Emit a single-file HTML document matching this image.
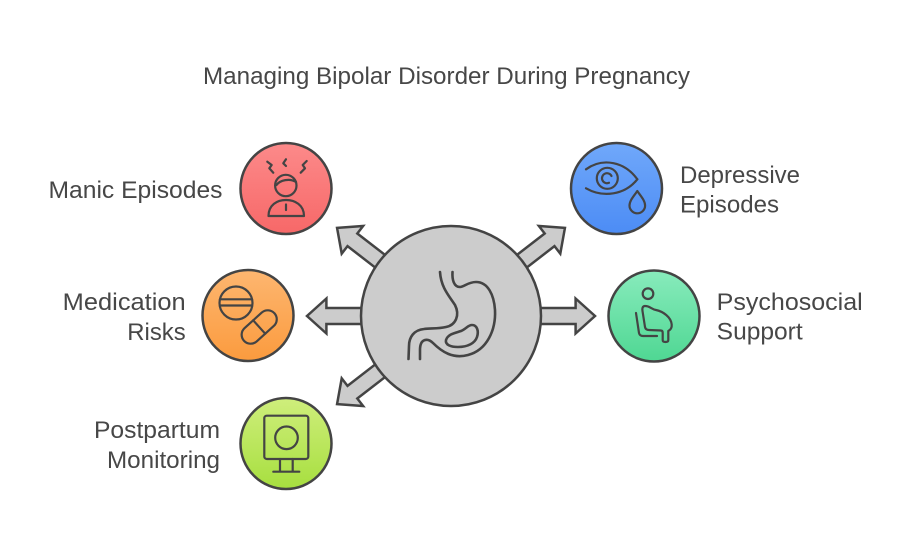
<!DOCTYPE html>
<html><head><meta charset="utf-8"><style>
html,body{margin:0;padding:0;background:#fff;}
svg{display:block;}
text{font-family:"Liberation Sans",Arial,sans-serif;fill:#474747;font-size:24px;}
</style></head><body>
<svg width="910" height="550" viewBox="0 0 910 550" xmlns="http://www.w3.org/2000/svg">
<defs>
<linearGradient id="gr" x1="0" y1="0" x2="0" y2="1"><stop offset="0" stop-color="#fc8a8a"/><stop offset="1" stop-color="#f76868"/></linearGradient>
<linearGradient id="gb" x1="0" y1="0" x2="0" y2="1"><stop offset="0" stop-color="#70a8fa"/><stop offset="1" stop-color="#4c8cf5"/></linearGradient>
<linearGradient id="go" x1="0" y1="0" x2="0" y2="1"><stop offset="0" stop-color="#fdb670"/><stop offset="1" stop-color="#fb9b3e"/></linearGradient>
<linearGradient id="gg" x1="0" y1="0" x2="0" y2="1"><stop offset="0" stop-color="#88ebbc"/><stop offset="1" stop-color="#4fd793"/></linearGradient>
<linearGradient id="gl" x1="0" y1="0" x2="0" y2="1"><stop offset="0" stop-color="#cfee7c"/><stop offset="1" stop-color="#a7df3f"/></linearGradient>
<polygon id="arr" points="0,-8 124.6,-8 124.6,-17.5 144,0 124.6,17.5 124.6,8 0,8"/>
</defs>

<text x="203" y="84" textLength="487" lengthAdjust="spacingAndGlyphs">Managing Bipolar Disorder During Pregnancy</text>

<!-- arrows -->
<g fill="#cccccc" stroke="#444" stroke-width="2.5" stroke-linejoin="miter">
<use href="#arr" transform="translate(451,316) rotate(217.7)"/>
<use href="#arr" transform="translate(451,316) rotate(-37.7)"/>
<use href="#arr" transform="translate(451,316) rotate(142.3)"/>
<use href="#arr" transform="translate(451,316) rotate(180)"/>
<use href="#arr" transform="translate(451,316)"/>
</g>
<circle cx="451" cy="316" r="90" fill="#cccccc" stroke="#444" stroke-width="2.5"/>

<!-- stomach -->
<g fill="none" stroke="#444" stroke-width="2.6" stroke-linecap="round" stroke-linejoin="round">
<path d="M440,272 C441,288 450,297 455,305 C460,315 456,325 446,327 C438,329 430,328 424,329 C414,330 409,337 409,346 L408.5,359"/>
<path d="M452.5,272 C452,280 454,287 460,287 C464,287 468,282 476,282 C488,282 494,295 495,310 C496,330 487,350 468,355 C453,359 442,352 433,343 C428,338 420,338 420,350 L420,359"/>
<path d="M446,340 C448,334 455,333 461,331 C466,329 468,325 472,325 C477,325 479,331 477,337 C475,343 468,347 458,347 C451,347 445,345 446,340 Z"/>
</g>

<!-- colored circles -->
<g stroke="#444" stroke-width="2.5">
<circle cx="286" cy="188.5" r="45.5" fill="url(#gr)"/>
<circle cx="616.5" cy="188.5" r="45.5" fill="url(#gb)"/>
<circle cx="248" cy="315.5" r="45.5" fill="url(#go)"/>
<circle cx="654" cy="316" r="45.5" fill="url(#gg)"/>
<circle cx="286" cy="443.5" r="45.5" fill="url(#gl)"/>
</g>

<g fill="none" stroke="#444" stroke-width="2.2" stroke-linecap="round" stroke-linejoin="round">
<!-- manic icon -->
<circle cx="285.8" cy="185.5" r="10.7"/>
<path d="M276.5,185 C280,180 290,178 296,182"/>
<path d="M268.5,216 C268.5,205 277,200 286,200 C295,200 304,205 304,216 Z"/>
<path d="M286,204.5 L286,210"/>
<path d="M267.3,161.7 L271.7,165 L269.3,168.3 L273.3,172.7"/>
<path d="M286,159.3 L283.3,163.3 L286,166"/>
<path d="M306.7,161 L302.7,165 L305,168.3 L300.7,172.7"/>

<!-- eye icon -->
<path d="M586,169.3 C603,157 625,162 637.3,179.3"/>
<path d="M586,188.3 C603,198 625,195 637.3,179.3"/>
<circle cx="607.3" cy="178.3" r="10.5"/>
<path d="M611.5,176 A5,5 0 1 0 609,182.8"/>
<path d="M637.3,191 C634,196 629.5,200.5 629.5,205.5 A7.8,7.8 0 0 0 645.1,205.5 C645.1,200.5 640.6,196 637.3,191 Z"/>

<!-- pills icon -->
<circle cx="236" cy="303" r="16.5"/>
<path d="M220,299.3 L252,299.3 M220,305.5 L252,305.5"/>
<g transform="translate(259.2,327) rotate(-42)">
<rect x="-20.5" y="-9" width="41" height="18" rx="9"/>
<path d="M0,-9 L0,9"/>
</g>

<!-- seated pregnant icon -->
<circle cx="648" cy="293.7" r="5.3"/>
<path d="M645,306 C642.5,306 642,308.5 642.5,311 L645,327 C645.5,329.5 647,330 649,330 L661,330.5 C662.5,330.5 662.7,332 662.7,333 L662.7,340 C662.7,341.5 663.5,342 665.5,342 C667.5,342 668.3,341.5 668.3,340 L668.3,331 C671,329.5 672,327.5 671.7,324.5 C671,317 663,311.5 656,310 C651,309 650,306 645,306 Z"/>
<path d="M636,313 L639,333 C639.5,335 641,336 643,336 L657,336"/>

<!-- monitor icon -->
<rect x="264.3" y="415.7" width="44" height="43.3" rx="2.5"/>
<circle cx="286.5" cy="437.8" r="11.3"/>
<path d="M280,459 L280,471.7 M292.7,459 L292.7,471.7 M273.3,471.7 L299.3,471.7"/>
</g>

<!-- labels -->
<text x="48.5" y="198" textLength="174" lengthAdjust="spacingAndGlyphs">Manic Episodes</text>
<text x="62.7" y="310" textLength="123" lengthAdjust="spacingAndGlyphs">Medication</text>
<text x="127.3" y="340" textLength="58.4" lengthAdjust="spacingAndGlyphs">Risks</text>
<text x="94" y="438" textLength="126" lengthAdjust="spacingAndGlyphs">Postpartum</text>
<text x="107" y="468" textLength="113" lengthAdjust="spacingAndGlyphs">Monitoring</text>
<text x="680" y="183" textLength="120" lengthAdjust="spacingAndGlyphs">Depressive</text>
<text x="680" y="212.5" textLength="99" lengthAdjust="spacingAndGlyphs">Episodes</text>
<text x="716.7" y="310" textLength="146" lengthAdjust="spacingAndGlyphs">Psychosocial</text>
<text x="716.7" y="339.5" textLength="86" lengthAdjust="spacingAndGlyphs">Support</text>
</svg>
</body></html>
